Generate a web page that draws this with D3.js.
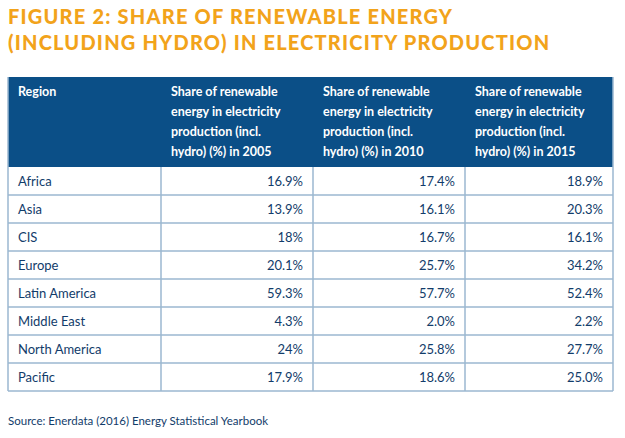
<!DOCTYPE html>
<html><head><meta charset="utf-8">
<script src="https://cdn.jsdelivr.net/npm/d3@7"></script>
<style>body{margin:0;background:#fff;font-family:Lato,"Open Sans",sans-serif;}</style>
</head><body><div id="chart"></div>
<script>
var titleLines = ["FIGURE 2: SHARE OF RENEWABLE ENERGY", "(INCLUDING HYDRO) IN ELECTRICITY PRODUCTION"];
var headers = ["Region",
  ["Share of renewable", "energy in electricity", "production (incl.", "hydro) (%) in 2005"],
  ["Share of renewable", "energy in electricity", "production (incl.", "hydro) (%) in 2010"],
  ["Share of renewable", "energy in electricity", "production (incl.", "hydro) (%) in 2015"]];
var regions = ["Africa", "Asia", "CIS", "Europe", "Latin America", "Middle East", "North America", "Pacific"];
var v2005 = ["16.9%", "13.9%", "18%", "20.1%", "59.3%", "4.3%", "24%", "17.9%"];
var v2010 = ["17.4%", "16.1%", "16.7%", "25.7%", "57.7%", "2.0%", "25.8%", "18.6%"];
var v2015 = ["18.9%", "20.3%", "16.1%", "34.2%", "52.4%", "2.2%", "27.7%", "25.0%"];
var source = "Source: Enerdata (2016) Energy Statistical Yearbook";

var W = 625, H = 438;
var svg = d3.select("#chart").append("svg").attr("width", W).attr("height", H);
var navy = "#0b4f87", textCol = "#123c6a", lineCol = "#9bb7d0";

svg.selectAll("text.title").data(titleLines).enter().append("text")
  .attr("x", 8).attr("y", function(d, i) { return 24 + i * 26; })
  .attr("fill", "#f2a31b").attr("font-size", 20).attr("font-weight", 900)
  .attr("letter-spacing", 1.2).text(function(d) { return d; });

var tLeft = 8, tRight = 613, tTop = 77, headH = 90;
var x = d3.scaleOrdinal().domain([0, 1, 2, 3, 4]).range([tLeft, 161, 313, 465, tRight]);
var y = d3.scaleBand().domain(regions).range([tTop + headH, tTop + headH + regions.length * 28]);

svg.append("rect").attr("x", tLeft).attr("y", tTop).attr("width", tRight - tLeft).attr("height", headH).attr("fill", navy);

headers.forEach(function(h, i) {
  var lines = typeof h === "string" ? [h] : h;
  svg.append("text").attr("x", x(i) + 10).attr("y", tTop + 19)
    .attr("fill", "#fff").attr("font-size", 12.5).attr("font-weight", 700)
    .selectAll("tspan").data(lines).enter().append("tspan")
    .attr("x", x(i) + 10).attr("dy", function(d, j) { return j ? 20 : 0; })
    .text(function(d) { return d; });
});

var cols = [v2005, v2010, v2015];
regions.forEach(function(r, i) {
  var yy = y(r);
  svg.append("line").attr("x1", tLeft).attr("x2", tRight).attr("y1", yy + y.bandwidth()).attr("y2", yy + y.bandwidth())
    .attr("stroke", lineCol).attr("stroke-width", 1.5);
  svg.append("text").attr("x", tLeft + 10).attr("y", yy + 19).attr("fill", textCol).attr("font-size", 13).text(r);
  cols.forEach(function(c, j) {
    svg.append("text").attr("x", x(j + 2) - 10).attr("y", yy + 19).attr("text-anchor", "end")
      .attr("fill", textCol).attr("font-size", 13).text(c[i]);
  });
});

var yb = y.range()[1];
[0, 1, 2, 3, 4].forEach(function(i) {
  svg.append("line").attr("x1", x(i)).attr("x2", x(i)).attr("y1", i === 0 || i === 4 ? tTop : tTop + headH).attr("y2", yb)
    .attr("stroke", lineCol).attr("stroke-width", 1.5);
});

svg.append("text").attr("x", 8).attr("y", 425).attr("fill", textCol).attr("font-size", 11.5).text(source);
</script></body></html>
